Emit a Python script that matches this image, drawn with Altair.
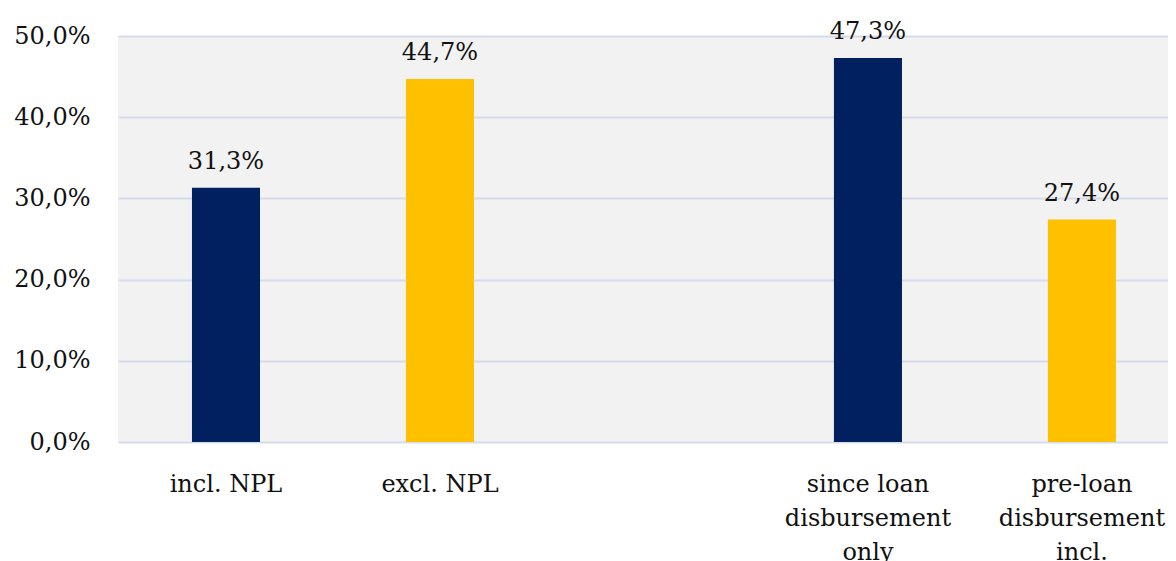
import altair as alt
import pandas as pd

categories = ["incl. NPL", "excl. NPL", "since loan|disbursement|only", "pre-loan|disbursement|incl."]
values = [0.313, 0.447, 0.473, 0.274]
groups = ["A", "B", "A", "B"]
axis_domain = ["incl. NPL", "excl. NPL", " ", "since loan|disbursement|only", "pre-loan|disbursement|incl."]
y_ticks = [0.0, 0.1, 0.2, 0.3, 0.4, 0.5]

df = pd.DataFrame({"category": categories, "value": values, "group": groups})

FONT = "DejaVu Serif"
FS = 24

x = alt.X(
    "category:N",
    sort=axis_domain,
    scale=alt.Scale(domain=axis_domain, paddingInner=0.682, paddingOuter=0.2944, align=0.587),
    axis=alt.Axis(
        title=None, labelAngle=0, ticks=False, domain=False,
        labelExpr="split(datum.label, '|')", labelPadding=30,
        labelBaseline="top", labelLineHeight=34,
        labelFont=FONT, labelFontSize=FS, labelColor="#111111", labelLimit=400,
    ),
)
y = alt.Y(
    "value:Q",
    scale=alt.Scale(domain=[0, 0.5], nice=False),
    axis=alt.Axis(
        title=None, values=y_ticks, ticks=False, domain=False,
        labelExpr="replace(format(datum.value, '.1%'), '.', ',')",
        labelPadding=28, labelFont=FONT, labelFontSize=FS, labelColor="#111111",
        grid=True, gridColor="#d6dbea", gridWidth=2,
    ),
)

bars = alt.Chart(df).mark_bar().encode(
    x=x, y=y,
    color=alt.Color("group:N", scale=alt.Scale(domain=["A", "B"], range=["#002060", "#FFC000"]), legend=None),
)

labels = alt.Chart(df).transform_calculate(
    lab="replace(format(datum.value, '.1%'), '.', ',')"
).mark_text(
    font=FONT, fontSize=FS, baseline="bottom", dy=-14, color="#111111"
).encode(x=x, y=y, text="lab:N")

chart = alt.layer(bars, labels).properties(
    width=1050, height=406,
    autosize="none",
    padding={"left": 110, "top": 28, "right": 0, "bottom": 119},
).configure_view(fill="#f2f2f2", stroke=None)

chart.save("out.html", embed_options={"renderer": "svg", "actions": False})
